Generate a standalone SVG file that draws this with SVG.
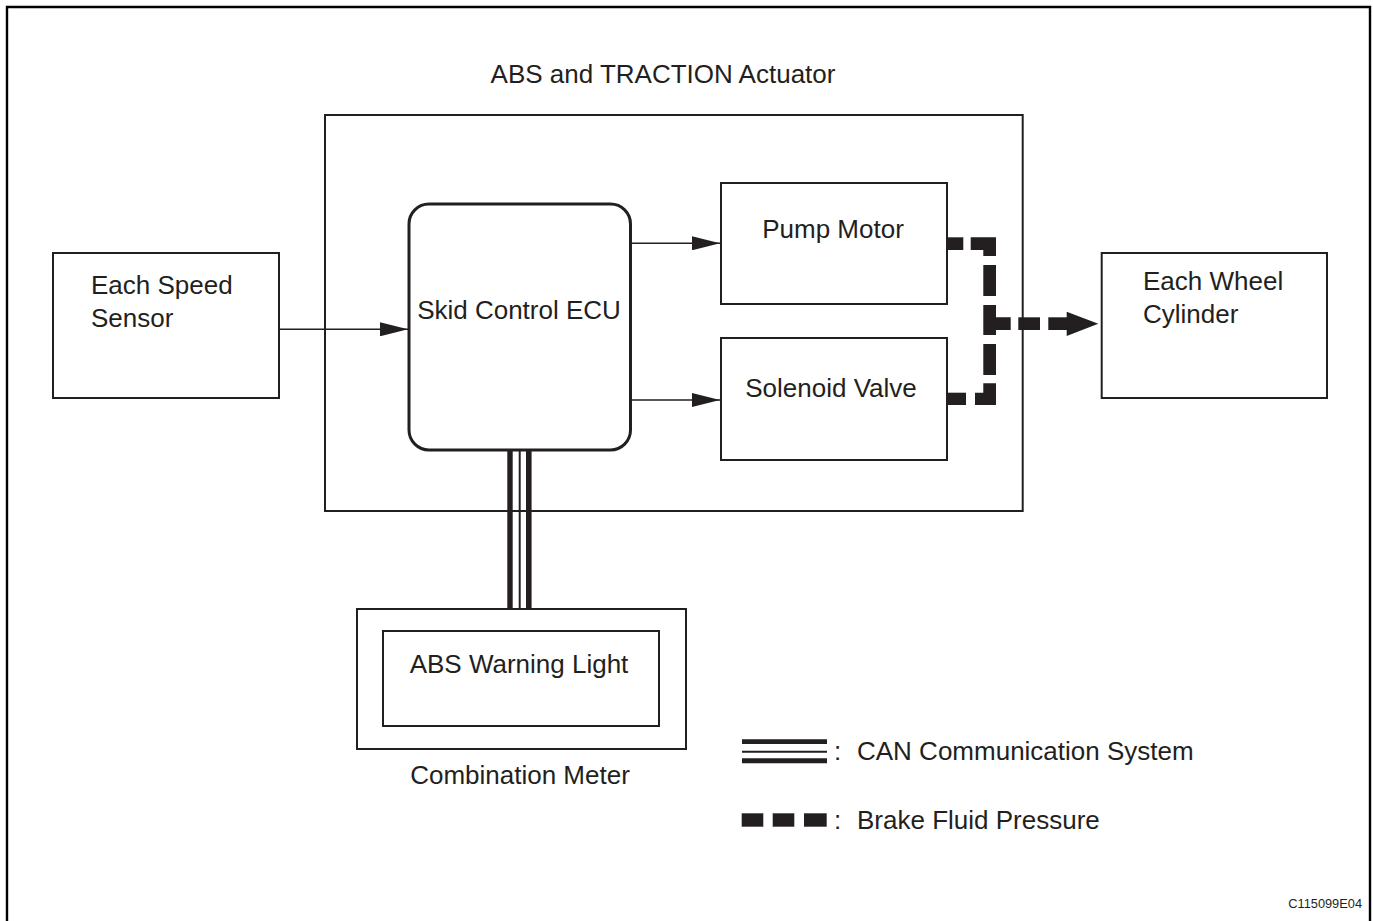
<svg xmlns="http://www.w3.org/2000/svg" width="1373" height="921" viewBox="0 0 1373 921">
<defs>
<style>
.box{fill:none;stroke:#231f20;stroke-width:2}
.t{font-family:"Liberation Sans",Arial,sans-serif;font-size:26px;fill:#231f20}
.c{text-anchor:middle}
.ln{stroke:#231f20;stroke-width:1.5;fill:none}
.fl{fill:#231f20}
</style>
<marker id="ah" markerWidth="28" markerHeight="14" refX="28" refY="7" orient="auto" markerUnits="userSpaceOnUse">
<path d="M0,0 L28,7 L0,14 Z" fill="#231f20"/>
</marker>
</defs>
<rect width="1373" height="921" fill="#fff"/>
<path d="M7,921 L7,7 L1370,7 L1370,921" fill="none" stroke="#000" stroke-width="2.4"/>

<g id="actuator">
<rect class="box" x="325" y="115" width="697.7" height="396"/>
<text class="t c" x="663" y="83">ABS and TRACTION Actuator</text>
</g>
<g id="ecu">
<rect x="409" y="204" width="221.5" height="246" rx="20" ry="20" fill="none" stroke="#231f20" stroke-width="3"/>
<text class="t c" x="519" y="319">Skid Control ECU</text>
</g>
<g id="pump">
<rect class="box" x="721" y="183" width="226" height="121"/>
<text class="t c" x="833" y="238">Pump Motor</text>
</g>
<g id="solenoid">
<rect class="box" x="721" y="338" width="226" height="122"/>
<text class="t c" x="831" y="397">Solenoid Valve</text>
</g>
<g id="speed-sensor">
<rect class="box" x="53" y="253" width="226" height="145"/>
<text class="t" x="91" y="294">Each Speed</text>
<text class="t" x="91" y="327">Sensor</text>
</g>
<g id="wheel-cylinder">
<rect class="box" x="1101.7" y="253" width="225.3" height="145"/>
<text class="t" x="1143" y="290">Each Wheel</text>
<text class="t" x="1143" y="323">Cylinder</text>
</g>
<g id="meter">
<rect class="box" x="357" y="609" width="329" height="140"/>
<rect class="box" x="383" y="631" width="276" height="95"/>
<text class="t c" x="519" y="673">ABS Warning Light</text>
<text class="t c" x="520" y="784">Combination Meter</text>
</g>

<g id="connectors">
<line class="ln" x1="279" y1="329.3" x2="408" y2="329.3" marker-end="url(#ah)"/>
<line class="ln" x1="631" y1="243.3" x2="720" y2="243.3" marker-end="url(#ah)"/>
<line class="ln" x1="631" y1="400" x2="720" y2="400" marker-end="url(#ah)"/>
<!-- CAN lines -->
<line x1="510" y1="451" x2="510" y2="609" stroke="#231f20" stroke-width="5.4"/>
<line x1="519.7" y1="451" x2="519.7" y2="609" stroke="#231f20" stroke-width="2"/>
<line x1="528.8" y1="451" x2="528.8" y2="609" stroke="#231f20" stroke-width="5.6"/>
<!-- brake fluid pressure -->
<g class="fl">
<rect x="947" y="237.3" width="16.3" height="12.7"/>
<path d="M970.7,237.3 H996 V256 H983.3 V250 H970.7 Z"/>
<rect x="983.3" y="265" width="12.7" height="31"/>
<path d="M983.3,305 H996 V317.3 H1010.7 V330 H996 V335 H983.3 Z"/>
<rect x="983.3" y="344" width="12.7" height="31"/>
<path d="M983.3,383.3 H996 V405 H975 V392.7 H983.3 Z"/>
<rect x="947" y="392.7" width="19" height="12.3"/>
<rect x="1018.3" y="317.3" width="21.7" height="12.7"/>
<rect x="1048.3" y="317.3" width="19" height="12.7"/>
<path d="M1066.7,311.7 L1098.3,323.7 L1066.7,336 Z"/>
</g>
</g>

<g id="legend">
<line x1="742" y1="741.7" x2="827" y2="741.7" stroke="#231f20" stroke-width="4.8"/>
<line x1="742" y1="751.7" x2="827" y2="751.7" stroke="#231f20" stroke-width="2"/>
<line x1="742" y1="760.8" x2="827" y2="760.8" stroke="#231f20" stroke-width="5"/>
<text class="t" x="834" y="760">:</text>
<text class="t" x="857" y="760">CAN Communication System</text>
<g class="fl">
<rect x="741.7" y="813.3" width="21.6" height="13.4"/>
<rect x="772.7" y="813.3" width="21.6" height="13.4"/>
<rect x="804" y="813.3" width="22.7" height="13.4"/>
</g>
<text class="t" x="834" y="829">:</text>
<text class="t" x="857" y="829">Brake Fluid Pressure</text>
</g>
<text x="1362" y="908" font-family="'Liberation Sans',Arial,sans-serif" font-size="12.8" fill="#231f20" text-anchor="end">C115099E04</text>
</svg>
